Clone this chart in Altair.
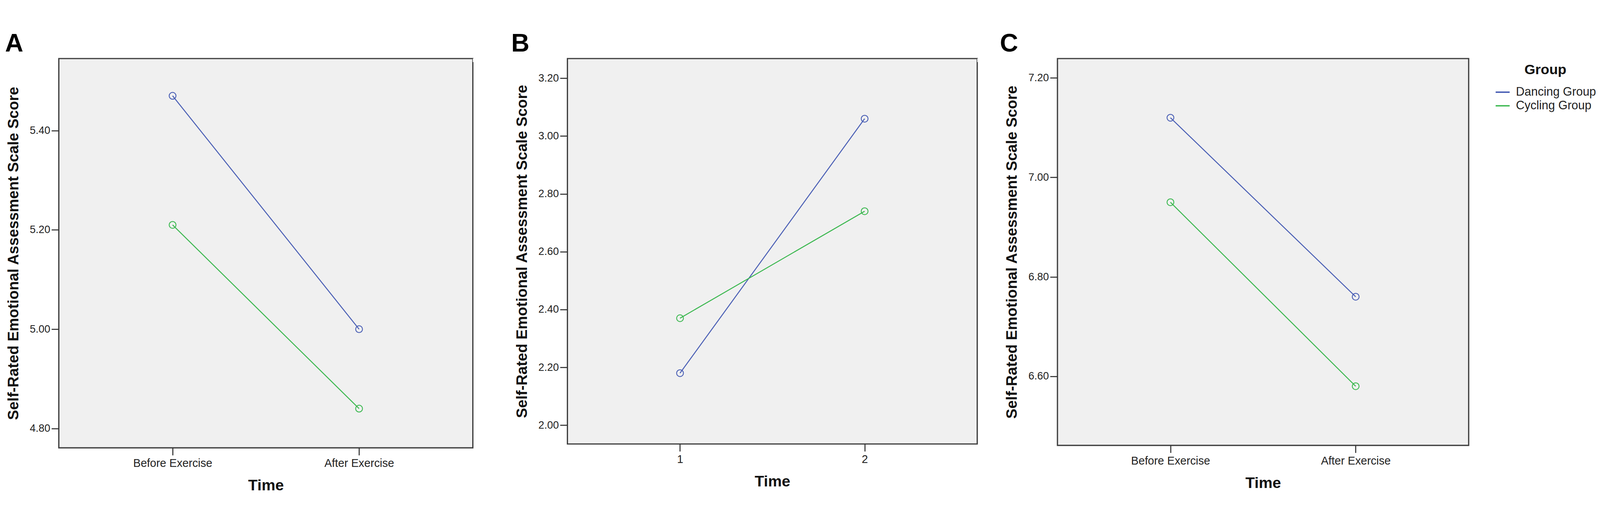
import altair as alt
import pandas as pd

# ---------------- data ----------------
groups = ["Dancing Group", "Cycling Group"]
colors = ["#4a5fb5", "#3cb850"]

time_words = ["Before Exercise", "After Exercise"]
time_nums = ["1", "2"]

a_dancing = [5.47, 5.00]
a_cycling = [5.21, 4.84]
b_dancing = [2.18, 3.06]
b_cycling = [2.37, 2.74]
c_dancing = [7.12, 6.76]
c_cycling = [6.95, 6.58]

a_ticks = [4.8, 5.0, 5.2, 5.4]
b_ticks = [2.0, 2.2, 2.4, 2.6, 2.8, 3.0, 3.2]
c_ticks = [6.6, 6.8, 7.0, 7.2]

a_domain = [4.761, 5.545]
b_domain = [1.935, 3.268]
c_domain = [6.461, 7.239]

y_title = "Self-Rated Emotional Assessment Scale Score"
x_title = "Time"
FONT = "Liberation Sans"


def panel(times, dancing, cycling, domain, ticks, letter, W, H,
          title_dx, legend=None):
    df = pd.DataFrame({
        "Time": times + times,
        "Score": dancing + cycling,
        "Group": [groups[0]] * len(times) + [groups[1]] * len(times),
    })
    color = alt.Color(
        "Group:N",
        scale=alt.Scale(domain=groups, range=colors),
        legend=legend,
    )
    base = alt.Chart(df).encode(
        x=alt.X("Time:N", sort=times,
                scale=alt.Scale(type="point", padding=0.61),
                axis=alt.Axis(title=x_title, labelAngle=0, labelLimit=1000)),
        y=alt.Y("Score:Q",
                scale=alt.Scale(domain=domain, nice=False, zero=False),
                axis=alt.Axis(title=y_title, values=ticks, format=".2f")),
        color=color,
        detail="Group:N",
    )
    lines = base.mark_line(strokeWidth=2.8)
    pts = base.mark_point(shape="circle", filled=False, size=380,
                          strokeWidth=2.5, opacity=1)
    return alt.layer(lines, pts).properties(
        width=W, height=H,
        title=alt.TitleParams(text=letter, anchor="start", frame="bounds",
                              fontSize=72, font=FONT, fontWeight="bold",
                              color="#000000", offset=5, dx=title_dx),
    )


def spacer(W):
    sdf = pd.DataFrame({"v": [0]})
    return alt.Chart(sdf).mark_point(opacity=0, size=0).encode(
        x=alt.value(0), y=alt.value(0)
    ).properties(
        width=W, height=10,
        view=alt.ViewBackground(fill="white", stroke="white", strokeWidth=0),
    )


legend_c = alt.Legend(
    title="Group", orient="none", legendX=1249, legendY=13,
    symbolType="stroke", symbolSize=1600, symbolStrokeWidth=4,
    titleFontSize=40, titleFontWeight="bold", titleFont=FONT,
    titleColor="#111111", titleAlign="center", titleAnchor="middle",
    titlePadding=21, labelFontSize=34, labelFont=FONT, labelColor="#222222",
    labelOffset=16, rowPadding=0, padding=0, labelLimit=1000,
)

a = panel(time_words, a_dancing, a_cycling, a_domain, a_ticks, "A",
          1182, 1112, -3, None)
b = panel(time_nums, b_dancing, b_cycling, b_domain, b_ticks, "B",
          1170, 1101, -10, None)
c = panel(time_words, c_dancing, c_cycling, c_domain, c_ticks, "C",
          1174, 1105, -14, legend_c)

chart = alt.hconcat(
    a, spacer(270), b, spacer(229), c, spacing=0, bounds="flush"
).resolve_scale(
    color="independent"
).resolve_legend(
    color="independent"
).properties(
    padding={"left": 3, "top": 2, "right": 0, "bottom": 0}
).configure_view(
    fill="#f0f0f0", stroke="#3c3c3c", strokeWidth=3.5
).configure_axis(
    domain=False, grid=False, tickColor="#333333", tickWidth=3,
    tickSize=21, labelFont=FONT, labelColor="#222222", titleFont=FONT,
    titleFontWeight="bold", titleColor="#111111",
).configure_axisX(
    labelFontSize=32, labelPadding=8, titleFontSize=44, titlePadding=26,
).configure_axisY(
    labelFontSize=30, labelPadding=4, titleFontSize=43, titlePadding=24,
)

chart.save("out.html", embed_options={"renderer": "svg", "actions": False})
